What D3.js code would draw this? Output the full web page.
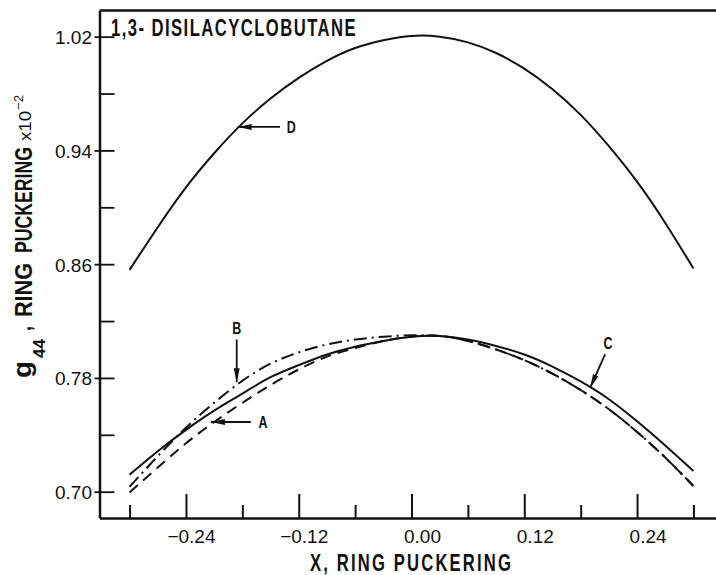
<!DOCTYPE html>
<html>
<head>
<meta charset="utf-8">
<script src="https://cdn.jsdelivr.net/npm/d3@7"></script>
<style>
  html, body { margin: 0; padding: 0; background: #fff; }
  svg { display: block; }
</style>
</head>
<body>
<svg id="chart" width="716" height="575"></svg>
<script>
// ---------------- data ----------------
const xVals = [-0.30,-0.27,-0.24,-0.21,-0.18,-0.15,-0.12,-0.09,-0.06,-0.03,0.00,0.03,0.06,0.09,0.12,0.15,0.18,0.21,0.24,0.27,0.30];
const curveD = [0.856,0.886,0.914,0.938,0.959,0.9765,0.991,1.003,1.012,1.0175,1.0205,1.020,1.016,1.0085,0.9975,0.983,0.965,0.943,0.918,0.889,0.857];
const curveC = [0.712,0.7285,0.7435,0.757,0.769,0.7805,0.789,0.7965,0.802,0.806,0.809,0.8095,0.807,0.8025,0.7965,0.788,0.7775,0.765,0.7495,0.7325,0.7145];
const curveB = [0.7035,0.725,0.745,0.7625,0.778,0.790,0.798,0.8035,0.807,0.809,0.810,0.8095,0.806,0.800,0.7925,0.783,0.7715,0.758,0.742,0.724,0.704];
const curveA = [0.6995,0.717,0.734,0.749,0.7625,0.775,0.786,0.795,0.801,0.806,0.809,0.8095,0.806,0.800,0.7925,0.783,0.7715,0.758,0.742,0.724,0.704];

const xMajor = [-0.24,-0.12,0.00,0.12,0.24];
const xMajorLabels = ["\u22120.24","\u22120.12","0.00","0.12","0.24"];
const xMinor = [-0.30,-0.18,-0.06,0.06,0.18,0.30];
const yMajor = [0.70,0.78,0.86,0.94,1.02];
const yMajorLabels = ["0.70","0.78","0.86","0.94","1.02"];
const yMinor = [0.74,0.82,0.90,0.98];

const annLabels = ["A","B","C","D"];
const annTips   = [[-0.2134,0.749],[-0.186,0.777],[0.190,0.773],[-0.185,0.9565]];
const annTails  = [[-0.171,0.749],[-0.186,0.807],[0.206,0.7965],[-0.140,0.9565]];
const annText   = [[-0.158,0.749],[-0.186,0.815],[0.209,0.805],[-0.128,0.9565]];

const chartTitle = "1,3- DISILACYCLOBUTANE";
const xTitle = "X, RING PUCKERING";

// ---------------- layout ----------------
const svg = d3.select("#chart");
const INK = "#111";
const x = d3.scaleLinear().domain([-0.332, 0.324]).range([99.5, 716]);
const y = d3.scaleLinear().domain([0.6815, 1.0384]).range([518, 10.5]);
const bold = "'Liberation Sans', Arial, sans-serif";
const light = "'Liberation Sans', Arial, sans-serif";

// defs: arrowhead
svg.append("defs").append("marker")
  .attr("id","arr").attr("viewBox","0 0 14 6").attr("refX",14).attr("refY",3)
  .attr("markerWidth",14).attr("markerHeight",6).attr("markerUnits","userSpaceOnUse")
  .attr("orient","auto")
  .append("path").attr("d","M0,0 L14,3 L0,6 Z").attr("fill",INK);

// ---- axes ----
const xAxisMajor = d3.axisBottom(x).tickValues(xMajor).tickSize(-24).tickSizeOuter(0)
  .tickFormat((d,i) => xMajorLabels[i]);
const gx = svg.append("g").attr("transform",`translate(0,${y.range()[0]})`).call(xAxisMajor);
gx.select(".domain").attr("stroke",INK).attr("stroke-width",2.5);
gx.selectAll(".tick line").attr("stroke",INK).attr("stroke-width",2);
gx.selectAll(".tick text")
  .attr("y",25).attr("dy",0).attr("x",29).attr("text-anchor","end")
  .attr("font-family",light).attr("font-size",19).attr("fill",INK);

const gxm = svg.append("g").attr("transform",`translate(0,${y.range()[0]})`)
  .call(d3.axisBottom(x).tickValues(xMinor).tickSize(-13).tickFormat(""));
gxm.select(".domain").remove();
gxm.selectAll(".tick line").attr("stroke",INK).attr("stroke-width",2);

const gy = svg.append("g").attr("transform",`translate(${x.range()[0]},0)`)
  .call(d3.axisLeft(y).tickValues(yMajor).tickSize(5).tickSizeOuter(0)
    .tickFormat((d,i) => yMajorLabels[i]));
gy.select(".domain").attr("stroke",INK).attr("stroke-width",2.5);
gy.selectAll(".tick line").attr("x1",15).attr("x2",-5).attr("stroke",INK).attr("stroke-width",1.8);
gy.selectAll(".tick text").attr("x",-7.5).attr("dy","0.36em")
  .attr("font-family",light).attr("font-size",19).attr("fill",INK);

const gym = svg.append("g").attr("transform",`translate(${x.range()[0]},0)`)
  .call(d3.axisRight(y).tickValues(yMinor).tickSize(15).tickFormat(""));
gym.select(".domain").remove();
gym.selectAll(".tick line").attr("stroke",INK).attr("stroke-width",1.8);

// top spine
svg.append("line")
  .attr("x1",x.range()[0]).attr("x2",x.range()[1])
  .attr("y1",y.range()[1]).attr("y2",y.range()[1])
  .attr("stroke",INK).attr("stroke-width",2.5);

// ---- curves ----
const line = d3.line().x(d => x(d[0])).y(d => y(d[1])).curve(d3.curveNatural);
const series = [
  {vals: curveD, dash: null},
  {vals: curveC, dash: null},
  {vals: curveA, dash: "11,7"},
  {vals: curveB, dash: "13,5,2,5"}
];
series.forEach(s => {
  svg.append("path")
    .datum(xVals.map((v,i) => [v, s.vals[i]]))
    .attr("d", line)
    .attr("fill","none").attr("stroke",INK).attr("stroke-width",2)
    .attr("stroke-dasharray", s.dash);
});

// ---- annotations ----
annLabels.forEach((lab,i) => {
  svg.append("line")
    .attr("x1",x(annTails[i][0])).attr("y1",y(annTails[i][1]))
    .attr("x2",x(annTips[i][0])).attr("y2",y(annTips[i][1]))
    .attr("stroke",INK).attr("stroke-width",1.8).attr("marker-end","url(#arr)");
  svg.append("text")
    .attr("x",x(annText[i][0])).attr("y",y(annText[i][1]))
    .attr("dy","0.36em").attr("text-anchor","middle")
    .attr("font-family",bold).attr("font-weight","bold").attr("font-size",17)
    .attr("textLength",9).attr("lengthAdjust","spacingAndGlyphs")
    .attr("fill",INK).text(lab);
});

// ---- titles ----
svg.append("text")
  .attr("x",111).attr("y",36)
  .attr("font-family",bold).attr("font-weight","bold").attr("font-size",23)
  .attr("letter-spacing",2)
  .attr("textLength",246).attr("lengthAdjust","spacingAndGlyphs")
  .attr("fill",INK).text(chartTitle);

svg.append("text")
  .attr("x",310).attr("y",571)
  .attr("font-family",bold).attr("font-weight","bold").attr("font-size",23)
  .attr("letter-spacing",3)
  .attr("textLength",203).attr("lengthAdjust","spacingAndGlyphs")
  .attr("fill",INK).text(xTitle);

// y title (rotated), pieces positioned along the axis
const yt = svg.append("g").attr("transform","translate(31,378) rotate(-90)");
const yParts = [
  {t:"g", x:0, y:0, size:26, w:"bold", len:17},
  {t:"44", x:20, y:14, size:17, w:"bold", len:19},
  {t:",", x:47, y:0, size:23, w:"bold", len:5},
  {t:"RING", x:61, y:1, size:24, w:"bold", len:54},
  {t:"PUCKERING", x:125, y:1, size:24, w:"bold", len:106},
  {t:"x10", x:237, y:0, size:16, w:"normal", len:30},
  {t:"\u22122", x:268, y:-8, size:13, w:"normal", len:15}
];
yParts.forEach(p => {
  yt.append("text").attr("x",p.x).attr("y",p.y)
    .attr("font-family",bold).attr("font-weight",p.w).attr("font-size",p.size)
    .attr("textLength",p.len).attr("lengthAdjust","spacingAndGlyphs")
    .attr("fill",INK).text(p.t);
});
</script>
</body>
</html>
